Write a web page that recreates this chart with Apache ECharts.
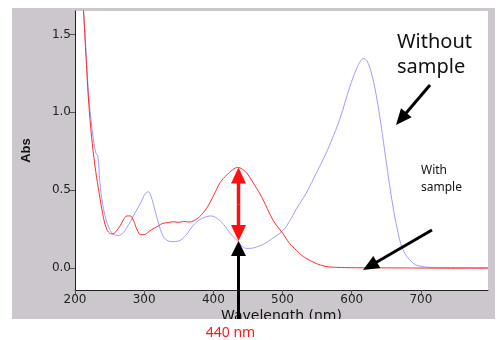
<!DOCTYPE html>
<html>
<head>
<meta charset="utf-8">
<script src="https://cdn.jsdelivr.net/npm/echarts@6/dist/echarts.min.js"></script>
<style>
  html, body { margin: 0; padding: 0; background: #fff; }
  #chart { width: 502px; height: 340px; }
</style>
</head>
<body>
<div id="chart"></div>
<script>
// spectrum with sample (red)
var redWl  = [208, 213, 216, 220, 225, 230, 235, 240, 245, 250, 255, 260, 265, 270, 275, 280, 285, 290, 295, 300, 305, 310, 320, 327, 335, 342, 350, 357, 365, 372, 380, 388, 395, 403, 410, 420, 428, 435, 442, 450, 460, 467, 475, 486, 493, 500, 510, 520, 530, 544, 555, 568, 580, 600, 650, 700, 750, 797];
var redAbs = [1.95, 1.60, 1.35, 1.05, 0.80, 0.62, 0.48, 0.35, 0.26, 0.225, 0.22, 0.24, 0.27, 0.31, 0.335, 0.335, 0.30, 0.245, 0.215, 0.215, 0.228, 0.245, 0.27, 0.288, 0.292, 0.298, 0.294, 0.30, 0.296, 0.305, 0.33, 0.37, 0.42, 0.49, 0.55, 0.60, 0.632, 0.646, 0.635, 0.60, 0.53, 0.48, 0.41, 0.31, 0.265, 0.225, 0.16, 0.115, 0.075, 0.04, 0.02, 0.008, 0.005, 0.003, 0.002, 0.001, 0.0, 0.0];
// spectrum without sample (blue)
var blueWl  = [208, 213, 216, 220, 225, 230, 233, 236, 240, 245, 250, 255, 262, 268, 275, 285, 295, 302, 306, 310, 315, 320, 325, 330, 340, 350, 360, 370, 380, 390, 397, 405, 415, 425, 435, 442, 448, 455, 465, 475, 485, 500, 510, 520, 534, 550, 560, 570, 583, 597, 607, 613, 617, 622, 628, 635, 642, 650, 658, 665, 674, 688, 700, 720, 797];
var blueAbs = [1.95, 1.60, 1.38, 1.10, 0.88, 0.74, 0.72, 0.55, 0.41, 0.31, 0.25, 0.22, 0.21, 0.22, 0.26, 0.34, 0.42, 0.48, 0.49, 0.46, 0.38, 0.30, 0.23, 0.19, 0.17, 0.175, 0.21, 0.27, 0.31, 0.33, 0.335, 0.32, 0.28, 0.22, 0.175, 0.14, 0.127, 0.128, 0.14, 0.16, 0.19, 0.24, 0.30, 0.38, 0.48, 0.62, 0.71, 0.81, 0.96, 1.16, 1.28, 1.33, 1.345, 1.33, 1.26, 1.12, 0.93, 0.68, 0.44, 0.27, 0.12, 0.035, 0.012, 0.005, 0.003];

var xTicks = [200, 300, 400, 500, 600, 700];
var yTicks = [0, 0.5, 1.0, 1.5];
var markWl = 435;   // where the 440 nm arrows sit

function pairs(xs, ys) {
  return xs.map(function (x, i) { return [x, ys[i]]; });
}

var chart = echarts.init(document.getElementById('chart'));

var option = {
  animation: false,
  grid: {
    left: 75, top: 11, right: 14, bottom: 50,
    show: true, backgroundColor: '#fff', borderWidth: 0
  },
  xAxis: {
    type: 'value',
    min: 200, max: 797,
    name: 'Wavelength (nm)',
    nameLocation: 'middle',
    nameGap: 19,
    nameMoveOverlap: false,
    nameTextStyle: { color: '#111', fontSize: 14, fontFamily: 'DejaVu Sans' },
    axisLine: { onZero: false, lineStyle: { color: '#222', width: 1 } },
    axisTick: { customValues: xTicks, length: 5, lineStyle: { color: '#555' } },
    axisLabel: { customValues: xTicks, margin: 4, color: '#222', fontSize: 12, fontFamily: 'DejaVu Sans' },
    splitLine: { show: false }
  },
  yAxis: {
    type: 'value',
    min: -0.14, max: 1.65,
    name: 'Abs',
    nameLocation: 'middle',
    nameGap: 42,
    nameRotate: 90,
    nameMoveOverlap: false,
    nameTextStyle: { color: '#111', fontSize: 13, fontWeight: 'bold', fontFamily: 'Liberation Sans' },
    axisLine: { show: true, onZero: false, lineStyle: { color: '#222', width: 1 } },
    axisTick: { show: true, customValues: yTicks, length: 6, lineStyle: { color: '#555' } },
    axisLabel: {
      customValues: yTicks, margin: 4, color: '#222', fontSize: 12, fontFamily: 'DejaVu Sans',
      formatter: function (v) { return v.toFixed(1); }
    },
    splitLine: { show: false }
  },
  series: [
    {
      name: 'Without sample',
      type: 'line',
      data: pairs(blueWl, blueAbs),
      showSymbol: false,
      smooth: 0.4,
      lineStyle: { color: '#9c9cff', width: 1 },
      z: 2
    },
    {
      name: 'With sample',
      type: 'line',
      data: pairs(redWl, redAbs),
      showSymbol: false,
      smooth: 0.4,
      lineStyle: { color: '#ff2a2a', width: 1 },
      z: 3
    }
  ]
};
chart.setOption(option);

// arrow = shaft + triangular head at (x2, y2)
function arrow(x1, y1, x2, y2, color, w, headLen, headW, z) {
  var dx = x2 - x1, dy = y2 - y1;
  var len = Math.sqrt(dx * dx + dy * dy);
  var ux = dx / len, uy = dy / len;
  var bx = x2 - ux * headLen, by = y2 - uy * headLen;
  return [
    { type: 'line', z: z, shape: { x1: x1, y1: y1, x2: bx + ux, y2: by + uy },
      style: { stroke: color, lineWidth: w } },
    { type: 'polygon', z: z,
      shape: { points: [[x2, y2], [bx - uy * headW / 2, by + ux * headW / 2], [bx + uy * headW / 2, by - ux * headW / 2]] },
      style: { fill: color } }
  ];
}

var pTop = chart.convertToPixel({ gridIndex: 0 }, [markWl, 0.646]);
var pBot = chart.convertToPixel({ gridIndex: 0 }, [markWl, 0.175]);
var ax = Math.round(pTop[0]) + 0.5;

var els = [
  // gray frame behind everything
  { type: 'rect', z: -10, shape: { x: 12, y: 8, width: 483, height: 311 }, style: { fill: '#ccc7cc' } },
  // white strip below the frame clips the axis name
  { type: 'rect', z: 50, shape: { x: 0, y: 319, width: 502, height: 21 }, style: { fill: '#fff' } }
];
els = els.concat(arrow(ax, (pTop[1] + pBot[1]) / 2, ax, pTop[1], '#ff1010', 3.5, 16, 15, 60));
els = els.concat(arrow(ax, (pTop[1] + pBot[1]) / 2, ax, pBot[1], '#ff1010', 3.5, 16, 15, 60));
els = els.concat(arrow(ax, 319, ax, pBot[1], '#000', 3, 15, 15, 60));
els = els.concat(arrow(430, 85, 396, 125, '#000', 3, 16, 14, 60));
els = els.concat(arrow(432, 230, 363, 270, '#000', 3, 16, 14, 60));
els.push(
  { type: 'text', z: 60, x: ax - 8, y: 333,
    style: { text: '440 nm', fill: '#ff1a1a', font: '14px "Noto Sans"', align: 'center', verticalAlign: 'middle' } },
  { type: 'text', z: 60, x: 397, y: 30,
    style: { text: 'Without\nsample', fill: '#111', font: '20px "Noto Sans"', lineHeight: 25, align: 'left', verticalAlign: 'top' } },
  { type: 'text', z: 60, x: 421, y: 162,
    style: { text: 'With\nsample', fill: '#111', font: '12px "Noto Sans"', lineHeight: 17, align: 'left', verticalAlign: 'top' } }
);

chart.setOption({ graphic: { elements: els } });
</script>
</body>
</html>
